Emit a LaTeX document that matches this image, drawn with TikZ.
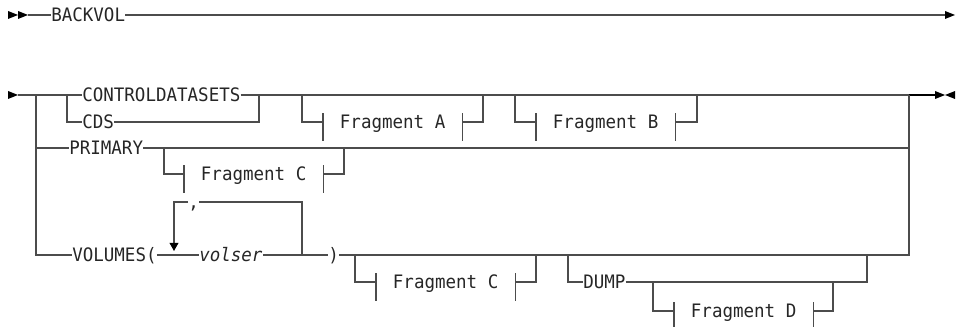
\documentclass[tikz,border=0pt]{standalone}
\usepackage{fontspec}
\setmonofont{DejaVu Sans Mono}[FakeStretch=0.945]
\usetikzlibrary{arrows.meta}

\begin{document}
\begin{tikzpicture}[
    x=0.75pt, y=-0.75pt,
    font=\ttfamily\fontsize{13.9pt}{16pt}\selectfont,
    kw/.style={anchor=west, inner sep=0pt, text height=10.1pt,
               text depth=0pt, text=black!85},
    frag/.style={kw, inner xsep=12.5pt},
    rail/.style={draw=black!70, line width=0.95pt},
    railend/.style={draw=black, line width=0.95pt},
    tip/.style={fill=black},
  ]
    \useasboundingbox (0,0) rectangle (964,327);

    % keywords and fragments
    \node[kw]   (backvol) at (51,15)   {BACKVOL};
    \node[kw]   (ctrlds)  at (82,95)   {CONTROLDATASETS};
    \node[kw]   (cds)     at (82,122)  {CDS};
    \node[frag] (fragA)   at (323,122) {Fragment A};
    \node[frag] (fragB)   at (536,122) {Fragment B};
    \node[kw]   (primary) at (69,148)  {PRIMARY};
    \node[frag] (fragCa)  at (184,174) {Fragment C};
    \node[kw]   (comma)   at (188,202) {,};
    \node[kw]   (volumes) at (72,255)  {VOLUMES(};
    \node[kw]   (volser)  at (199,255) {\textit{volser}};
    \node[kw]   (rparen)  at (328,255) {)};
    \node[frag] (fragCb)  at (376,282) {Fragment C};
    \node[kw]   (dump)    at (583,282) {DUMP};
    \node[frag] (fragD)   at (674,311) {Fragment D};

    % junctions
    \coordinate (topin)   at (28,15);
    \coordinate (topout)  at (945,15);
    \coordinate (in)      at (18,95);
    \coordinate (L)       at (36,95);
    \coordinate (R)       at (909,95);
    \coordinate (out)     at (935,95);
    \coordinate (cdsL)    at (67,95);
    \coordinate (cdsR)    at (259,95);
    \coordinate (fragAL)  at (302,95);
    \coordinate (fragAR)  at (483,95);
    \coordinate (fragBL)  at (515,95);
    \coordinate (fragBR)  at (697,95);
    \coordinate (fragCaL) at (164,148);
    \coordinate (fragCaR) at (344,148);
    \coordinate (loopin)  at (174,251);
    \coordinate (loopR)   at (302,255);
    \coordinate (fragCbL) at (355,255);
    \coordinate (fragCbR) at (536,255);
    \coordinate (dumpL)   at (568,255);
    \coordinate (dumpR)   at (867,255);
    \coordinate (fragDL)  at (653,282);
    \coordinate (fragDR)  at (833,282);

    % first line
    \draw[rail] (topin) -- (backvol.west);
    \draw[rail] (backvol.east) -- (topout);

    % main line
    \draw[rail] (in) -- (ctrlds.west);
    \draw[rail] (ctrlds.east) -- (R);
    \draw[railend] (R) -- (out);
    \draw[rail] (cdsL) |- (cds.west);
    \draw[rail] (cds.east) -| (cdsR);
    \draw[rail] (fragAL) |- (fragA.west);
    \draw[rail] (fragA.east) -| (fragAR);
    \draw[rail] (fragBL) |- (fragB.west);
    \draw[rail] (fragB.east) -| (fragBR);

    % PRIMARY
    \draw[rail] (L) |- (primary.west);
    \draw[rail] (primary.east) -| (R);
    \draw[rail] (fragCaL) |- (fragCa.west);
    \draw[rail] (fragCa.east) -| (fragCaR);

    % VOLUMES
    \draw[rail] (L) |- (volumes.west);
    \draw[rail] (volumes.east) -- (volser.west);
    \draw[rail] (volser.east) -- (rparen.west);
    \draw[rail] (rparen.east) -| (R);
    \draw[rail] (loopR) |- (comma.east);
    \draw[rail, -{Triangle[length=6pt,width=6.5pt,color=black]}] (comma.west) -| (loopin);
    \draw[rail] (fragCbL) |- (fragCb.west);
    \draw[rail] (fragCb.east) -| (fragCbR);
    \draw[rail] (dumpL) |- (dump.west);
    \draw[rail] (dump.east) -| (dumpR);
    \draw[rail] (fragDL) |- (fragD.west);
    \draw[rail] (fragD.east) -| (fragDR);

    % fragment ticks
    \foreach \f in {fragA,fragB,fragCa,fragCb,fragD}
      \draw[rail] ([yshift=6.4pt]\f.west) -- ([yshift=-14.3pt]\f.west)
                  ([yshift=6.4pt]\f.east) -- ([yshift=-14.3pt]\f.east);

    % start and end marks
    \foreach \x in {8,18}
      \fill[tip] (\x,11) -- (\x+10,15) -- (\x,19) -- cycle;
    \fill[tip] (945,11) -- (955,15) -- (945,19) -- cycle;
    \fill[tip] (8,91) -- (18,95) -- (8,99) -- cycle;
    \fill[tip] (935,91) -- (945,95) -- (935,99) -- cycle;
    \fill[tip] (955,91) -- (945,95) -- (955,99) -- cycle;
  \end{tikzpicture}
\end{document}
